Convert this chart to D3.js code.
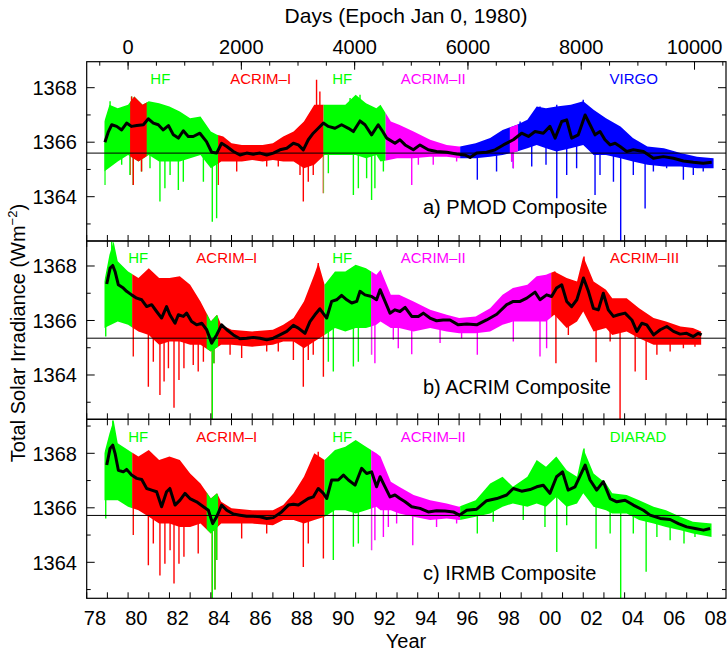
<!DOCTYPE html>
<html>
<head>
<meta charset="utf-8">
<script src="https://cdn.jsdelivr.net/npm/d3@7"></script>
<style>
  body { margin: 0; background: #fff; }
  svg { display: block; }
  text { font-family: "Liberation Sans", Arial, Helvetica, sans-serif; fill: #000; }
</style>
</head>
<body>
<svg id="chart"></svg>
<script>
// ---- data: [year, W/m^2] ----
const smoothA = [[1978.88,1366.0],[1979.05,1366.39],[1979.21,1366.64],[1979.45,1366.58],[1979.69,1366.45],[1979.93,1366.70],[1980.17,1366.58],[1980.42,1366.61],[1980.74,1366.64],[1980.98,1366.86],[1981.22,1366.70],[1981.46,1366.64],[1981.70,1366.45],[1981.95,1366.61],[1982.19,1366.27],[1982.43,1366.15],[1982.67,1366.42],[1982.91,1366.21],[1983.15,1366.21],[1983.47,1366.33],[1983.79,1366.02],[1984.04,1365.63],[1984.28,1365.60],[1984.52,1365.96],[1984.77,1365.84],[1985.09,1365.66],[1985.41,1365.53],[1985.73,1365.60],[1986.05,1365.56],[1986.38,1365.60],[1986.70,1365.53],[1987.02,1365.60],[1987.34,1365.72],[1987.67,1365.78],[1987.99,1365.96],[1988.23,1365.90],[1988.47,1365.72],[1988.71,1366.09],[1988.95,1366.33],[1989.19,1366.51],[1989.44,1366.70],[1989.68,1366.58],[1990.00,1366.51],[1990.32,1366.64],[1990.65,1366.51],[1990.89,1366.39],[1991.21,1366.78],[1991.45,1366.64],[1991.77,1366.27],[1992.09,1366.64],[1992.30,1366.40],[1992.50,1366.15],[1992.90,1365.96],[1993.14,1366.09],[1993.39,1365.90],[1993.79,1365.72],[1994.11,1365.90],[1994.51,1365.72],[1994.91,1365.66],[1995.40,1365.63],[1995.88,1365.57],[1996.29,1365.53],[1996.53,1365.44],[1996.85,1365.60],[1997.33,1365.63],[1997.74,1365.72],[1998.14,1365.90],[1998.62,1366.09],[1999.02,1366.33],[1999.35,1366.21],[1999.67,1366.39],[2000.07,1366.33],[2000.39,1366.58],[2000.64,1366.15],[2000.96,1366.76],[2001.20,1366.82],[2001.44,1366.15],[2001.76,1366.27],[2002.09,1367.00],[2002.33,1366.64],[2002.57,1366.27],[2002.81,1366.39],[2003.05,1366.09],[2003.30,1365.90],[2003.54,1365.96],[2003.78,1365.84],[2004.10,1365.66],[2004.42,1365.72],[2004.91,1365.66],[2005.39,1365.41],[2005.87,1365.47],[2006.36,1365.41],[2006.84,1365.31],[2007.32,1365.26],[2007.80,1365.23],[2008.21,1365.26]];
const upperA = [[1978.85,1366.76],[1979.1,1367.37],[1979.5,1367.25],[1980.0,1367.37],[1980.3,1367.68],[1980.7,1367.37],[1981.0,1367.5],[1981.5,1367.43],[1982.0,1367.31],[1982.5,1367.13],[1983.0,1366.88],[1983.5,1366.94],[1984.0,1366.39],[1984.3,1366.27],[1984.6,1366.21],[1985.0,1365.96],[1985.5,1365.9],[1986.0,1365.9],[1986.5,1365.9],[1987.0,1365.96],[1987.5,1366.21],[1988.0,1366.39],[1988.5,1366.76],[1989.0,1367.37],[1989.5,1367.37],[1990.0,1367.37],[1990.5,1367.37],[1991.0,1367.74],[1991.5,1367.43],[1992.0,1367.25],[1992.2,1367.37],[1992.7,1366.76],[1993.1,1366.64],[1993.8,1366.39],[1994.6,1366.09],[1995.4,1365.9],[1996.0,1365.84],[1996.8,1365.96],[1997.5,1366.15],[1998.1,1366.45],[1998.8,1366.64],[1999.3,1366.82],[1999.75,1367.31],[2000.2,1367.25],[2000.7,1367.31],[2001.4,1367.37],[2002.0,1367.5],[2002.5,1367.19],[2003.1,1366.88],[2003.8,1366.58],[2004.4,1366.15],[2005.1,1365.84],[2005.9,1365.78],[2006.7,1365.6],[2007.5,1365.47],[2008.3,1365.41]];
const lowerA = [[1978.85,1364.92],[1979.5,1365.29],[1980.0,1365.53],[1980.5,1365.29],[1981.0,1365.53],[1981.5,1365.29],[1982.0,1365.29],[1982.5,1365.29],[1983.0,1365.41],[1983.5,1365.53],[1984.0,1365.04],[1984.5,1365.29],[1985.0,1365.29],[1985.5,1365.29],[1986.0,1365.35],[1986.5,1365.29],[1987.0,1365.35],[1987.5,1365.29],[1988.0,1365.29],[1988.5,1365.04],[1989.0,1365.17],[1989.5,1365.53],[1990.0,1365.53],[1990.5,1365.53],[1991.0,1365.53],[1991.5,1365.41],[1992.0,1365.53],[1992.2,1365.29],[1993.0,1365.41],[1993.8,1365.41],[1994.6,1365.47],[1995.4,1365.47],[1996.0,1365.41],[1996.8,1365.41],[1997.5,1365.47],[1998.1,1365.53],[1998.8,1365.66],[1999.3,1365.78],[1999.75,1365.9],[2000.2,1365.78],[2000.7,1365.66],[2001.4,1365.78],[2002.0,1365.9],[2002.5,1365.53],[2003.1,1365.53],[2003.8,1365.41],[2004.4,1365.29],[2005.1,1365.17],[2005.9,1365.11],[2006.7,1365.11],[2007.5,1365.04],[2008.3,1365.04]];
const spikesA = [[1978.88,1364.43],[1979.13,1367.5],[1979.69,1365.17],[1980.09,1364.80],[1980.17,1367.68],[1980.25,1364.43],[1980.65,1364.92],[1981.06,1365.04],[1981.54,1363.82],[1981.78,1364.31],[1982.03,1364.80],[1982.43,1364.25],[1982.67,1364.55],[1983.64,1364.55],[1984.07,1363.08],[1984.28,1363.21],[1984.36,1364.43],[1985.25,1364.92],[1986.70,1365.11],[1987.26,1365.11],[1988.31,1364.80],[1988.47,1363.82],[1988.71,1364.55],[1988.95,1364.80],[1989.11,1368.29],[1989.27,1367.86],[1989.44,1364.13],[1989.68,1364.86],[1990.73,1367.62],[1990.89,1364.06],[1991.13,1364.31],[1991.21,1367.74],[1991.53,1364.68],[1991.77,1363.88],[1991.93,1364.31],[1992.34,1364.92],[1993.71,1364.43],[1994.03,1365.17],[1994.75,1365.17],[1995.88,1365.29],[1996.88,1364.62],[1997.81,1364.92],[1998.54,1365.29],[1998.62,1365.04],[1998.95,1366.76],[1999.51,1365.11],[1999.91,1367.31],[2000.2,1365.17],[2000.72,1363.94],[2000.72,1367.37],[2001.2,1364.80],[2001.68,1365.04],[2002.0,1367.56],[2002.57,1364.06],[2002.81,1364.80],[2003.46,1364.55],[2003.81,1362.3],[2004.42,1364.80],[2004.99,1363.57],[2005.39,1364.92],[2006.03,1365.04],[2006.84,1364.62],[2007.32,1364.80],[2007.8,1364.92]];

const smoothB = [[1978.97,1367.34],[1979.13,1367.92],[1979.26,1368.02],[1979.37,1367.80],[1979.53,1367.31],[1979.77,1367.19],[1979.93,1367.07],[1980.17,1366.94],[1980.42,1366.82],[1980.66,1366.76],[1980.90,1366.51],[1981.14,1366.58],[1981.38,1366.33],[1981.62,1366.09],[1981.86,1366.51],[1982.02,1366.21],[1982.27,1365.90],[1982.43,1366.21],[1982.67,1366.15],[1982.83,1366.27],[1983.07,1365.96],[1983.31,1365.84],[1983.56,1365.90],[1983.80,1365.66],[1984.04,1365.17],[1984.28,1365.47],[1984.52,1365.84],[1984.77,1365.66],[1985.09,1365.47],[1985.41,1365.33],[1985.73,1365.35],[1986.05,1365.38],[1986.38,1365.35],[1986.70,1365.29],[1987.02,1365.35],[1987.34,1365.47],[1987.67,1365.60],[1987.99,1365.82],[1988.23,1365.72],[1988.55,1365.53],[1988.79,1365.96],[1989.03,1366.21],[1989.27,1366.43],[1989.60,1366.09],[1989.84,1366.70],[1990.08,1366.76],[1990.32,1366.92],[1990.57,1366.76],[1990.81,1366.64],[1991.05,1366.70],[1991.21,1367.07],[1991.45,1366.94],[1991.77,1366.88],[1992.01,1366.76],[1992.18,1367.13],[1992.42,1366.70],[1992.66,1366.27],[1992.90,1366.39],[1993.14,1366.33],[1993.39,1366.48],[1993.71,1366.15],[1994.03,1366.15],[1994.27,1366.27],[1994.59,1366.09],[1994.91,1365.99],[1995.23,1366.02],[1995.56,1366.02],[1995.96,1365.84],[1996.37,1365.87],[1996.85,1365.84],[1997.33,1366.02],[1997.82,1366.23],[1998.30,1366.58],[1998.62,1366.70],[1998.95,1366.70],[1999.27,1366.82],[1999.67,1367.04],[1999.91,1366.76],[2000.23,1366.94],[2000.47,1366.88],[2000.71,1367.19],[2000.96,1367.31],[2001.20,1366.70],[2001.44,1366.51],[2001.69,1366.76],[2002.01,1367.56],[2002.25,1367.07],[2002.49,1366.45],[2002.73,1366.39],[2002.97,1367.00],[2003.21,1366.39],[2003.46,1366.15],[2003.70,1366.21],[2004.02,1366.27],[2004.35,1366.02],[2004.59,1365.60],[2004.83,1365.90],[2005.07,1365.84],[2005.40,1365.47],[2005.72,1365.66],[2006.04,1365.78],[2006.36,1365.60],[2006.68,1365.50],[2007.00,1365.53],[2007.32,1365.41],[2007.56,1365.53],[2007.72,1365.47]];
const upperB = [[1978.85,1367.43],[1979.1,1368.41],[1979.3,1368.9],[1979.5,1368.17],[1980.0,1367.8],[1980.5,1367.56],[1981.0,1367.92],[1981.5,1367.56],[1982.0,1367.56],[1982.5,1367.62],[1983.0,1367.31],[1983.5,1366.7],[1984.0,1365.96],[1984.3,1366.21],[1984.5,1365.84],[1985.0,1365.66],[1986.0,1365.6],[1987.0,1365.66],[1987.5,1365.84],[1988.0,1366.09],[1988.5,1366.7],[1989.0,1367.68],[1989.2,1368.11],[1989.5,1367.31],[1990.0,1367.8],[1990.5,1367.8],[1991.0,1368.05],[1991.5,1367.92],[1992.0,1367.68],[1992.2,1367.86],[1992.7,1366.94],[1993.1,1366.94],[1993.8,1366.7],[1994.6,1366.39],[1995.4,1366.21],[1996.0,1366.09],[1996.8,1366.15],[1997.5,1366.45],[1998.1,1366.94],[1998.6,1367.19],[1999.3,1367.31],[1999.75,1367.62],[2000.2,1367.68],[2000.6,1367.8],[2001.2,1367.56],[2001.7,1367.43],[2002.0,1368.35],[2002.5,1367.43],[2003.1,1367.13],[2003.4,1366.82],[2004.1,1366.82],[2004.7,1366.45],[2005.4,1366.09],[2006.0,1365.96],[2006.7,1365.78],[2007.3,1365.72],[2007.7,1365.6]];
const lowerB = [[1978.85,1365.72],[1979.5,1365.96],[1980.0,1365.84],[1980.5,1365.6],[1981.0,1365.47],[1981.5,1365.11],[1982.0,1365.23],[1982.5,1365.23],[1983.0,1365.11],[1983.5,1365.11],[1984.0,1364.86],[1984.5,1365.11],[1985.0,1365.11],[1986.0,1365.04],[1987.0,1365.11],[1987.5,1365.23],[1988.0,1365.23],[1988.5,1364.98],[1989.0,1365.23],[1989.5,1365.47],[1990.0,1365.72],[1990.5,1365.6],[1991.0,1365.72],[1991.5,1365.72],[1992.0,1365.84],[1992.2,1365.96],[1992.7,1365.72],[1993.1,1365.72],[1993.8,1365.6],[1994.6,1365.72],[1995.4,1365.6],[1996.0,1365.53],[1996.8,1365.53],[1997.5,1365.6],[1998.1,1365.84],[1998.6,1365.96],[1999.3,1365.96],[1999.75,1365.96],[2000.2,1365.96],[2000.6,1366.21],[2001.2,1365.72],[2001.7,1365.96],[2002.0,1366.33],[2002.5,1365.6],[2003.1,1365.72],[2003.4,1365.47],[2004.1,1365.6],[2004.7,1365.35],[2005.4,1365.11],[2006.0,1365.11],[2006.7,1365.11],[2007.3,1365.11],[2007.7,1365.11]];
const spikesB = [[1978.92,1365.41],[1979.21,1368.9],[1980.25,1364.68],[1980.98,1363.57],[1981.22,1364.49],[1981.54,1363.27],[1981.74,1363.76],[1981.95,1364.25],[1982.22,1362.80],[1982.46,1363.82],[1982.70,1364.25],[1983.15,1364.37],[1983.39,1364.13],[1983.64,1364.49],[1984.07,1362.3],[1984.15,1364.43],[1984.93,1364.74],[1985.49,1364.62],[1986.70,1364.86],[1987.26,1364.86],[1987.99,1364.55],[1988.47,1363.57],[1988.71,1364.55],[1988.95,1364.74],[1989.19,1368.11],[1989.44,1363.94],[1989.68,1364.49],[1989.92,1364.13],[1990.89,1364.31],[1991.13,1364.49],[1991.77,1364.74],[1991.93,1364.43],[1992.82,1365.29],[1993.06,1364.98],[1993.71,1364.76],[1995.08,1365.17],[1996.12,1365.35],[1996.88,1364.74],[1998.62,1365.23],[1999.91,1364.68],[2000.23,1364.98],[2000.63,1367.8],[2000.68,1364.43],[2001.28,1365.47],[2002.04,1368.35],[2002.62,1364.47],[2003.30,1365.23],[2003.78,1362.3],[2004.51,1364.13],[2005.04,1363.82],[2005.56,1364.74],[2006.2,1364.86],[2006.84,1364.98],[2007.40,1365.04]];

const smoothC = [[1978.97,1367.57],[1979.13,1368.18],[1979.26,1368.30],[1979.37,1368.00],[1979.53,1367.38],[1979.77,1367.32],[1979.93,1367.41],[1980.17,1367.20],[1980.42,1367.08],[1980.66,1367.04],[1980.90,1366.71],[1981.14,1366.65],[1981.38,1366.59],[1981.62,1366.04],[1981.86,1366.59],[1982.02,1366.71],[1982.27,1366.10],[1982.51,1366.28],[1982.75,1366.53],[1982.99,1366.34],[1983.31,1366.22],[1983.64,1366.04],[1983.88,1365.91],[1984.09,1365.42],[1984.28,1365.67],[1984.52,1366.10],[1984.77,1365.91],[1985.09,1365.77],[1985.41,1365.73],[1985.73,1365.69],[1986.05,1365.69],[1986.38,1365.67],[1986.70,1365.61],[1987.02,1365.64],[1987.42,1365.85],[1987.75,1366.10],[1987.99,1366.13],[1988.23,1366.10],[1988.47,1366.22],[1988.71,1366.34],[1988.95,1366.40],[1989.19,1366.71],[1989.44,1366.53],[1989.60,1366.34],[1989.84,1367.02],[1990.16,1367.02],[1990.41,1367.20],[1990.65,1367.02],[1990.97,1366.83],[1991.29,1367.45],[1991.53,1367.26],[1991.77,1367.32],[1992.01,1366.77],[1992.18,1367.14],[1992.42,1366.77],[1992.66,1366.40],[1992.90,1366.47],[1993.14,1366.34],[1993.39,1366.22],[1993.71,1366.04],[1994.11,1365.98],[1994.51,1365.85],[1994.91,1365.89],[1995.32,1365.88],[1995.72,1365.85],[1996.01,1365.73],[1996.37,1365.91],[1996.85,1365.95],[1997.33,1366.26],[1997.82,1366.34],[1998.30,1366.47],[1998.62,1366.71],[1999.02,1366.61],[1999.43,1366.67],[1999.75,1366.77],[2000.07,1366.83],[2000.39,1366.53],[2000.71,1367.14],[2001.00,1367.32],[2001.27,1366.65],[2001.60,1366.77],[2002.09,1367.57],[2002.33,1367.02],[2002.65,1366.65],[2002.97,1366.96],[2003.30,1366.34],[2003.62,1366.22],[2004.02,1366.28],[2004.42,1366.10],[2004.91,1365.91],[2005.23,1365.73],[2005.72,1365.61],[2006.20,1365.57],[2006.60,1365.42],[2007.00,1365.30],[2007.41,1365.24],[2007.81,1365.18],[2008.13,1365.24]];
const upperC = [[1978.85,1368.0],[1979.1,1368.73],[1979.3,1369.22],[1979.5,1368.37],[1980.0,1368.12],[1980.5,1367.88],[1981.0,1368.12],[1981.5,1367.75],[1982.0,1367.88],[1982.5,1367.75],[1983.0,1367.26],[1983.5,1366.89],[1984.0,1366.34],[1984.3,1366.53],[1984.5,1366.22],[1985.0,1365.98],[1986.0,1365.91],[1987.0,1365.91],[1987.5,1366.1],[1988.0,1366.53],[1988.5,1367.14],[1989.0,1368.0],[1989.5,1367.75],[1990.0,1368.12],[1990.5,1368.24],[1991.0,1368.49],[1991.5,1368.24],[1992.0,1368.0],[1992.2,1367.88],[1992.7,1366.96],[1993.1,1366.77],[1993.8,1366.47],[1994.6,1366.28],[1995.4,1366.16],[1996.0,1366.04],[1996.8,1366.28],[1997.5,1366.89],[1998.1,1367.14],[1998.6,1366.77],[1999.3,1367.14],[1999.75,1367.75],[2000.2,1367.51],[2000.7,1367.88],[2001.2,1367.38],[2001.7,1367.14],[2002.0,1368.18],[2002.5,1367.26],[2003.1,1366.89],[2003.4,1366.53],[2004.1,1366.47],[2004.7,1366.28],[2005.4,1366.04],[2006.0,1365.91],[2006.7,1365.67],[2007.3,1365.49],[2008.2,1365.42]];
const lowerC = [[1978.85,1366.28],[1979.5,1366.28],[1980.0,1366.04],[1980.5,1365.91],[1981.0,1365.67],[1981.5,1365.42],[1982.0,1365.42],[1982.5,1365.3],[1983.0,1365.3],[1983.5,1365.42],[1984.0,1365.06],[1984.5,1365.42],[1985.0,1365.42],[1986.0,1365.42],[1987.0,1365.36],[1987.5,1365.55],[1988.0,1365.55],[1988.5,1365.42],[1989.0,1365.55],[1989.5,1365.67],[1990.0,1365.91],[1990.5,1365.91],[1991.0,1365.79],[1991.5,1365.91],[1992.0,1366.04],[1992.2,1365.91],[1992.7,1365.91],[1993.1,1365.79],[1993.8,1365.67],[1994.6,1365.55],[1995.4,1365.61],[1996.0,1365.55],[1996.8,1365.67],[1997.5,1365.79],[1998.1,1366.04],[1998.6,1366.16],[1999.3,1366.04],[1999.75,1366.16],[2000.2,1366.04],[2000.7,1366.4],[2001.2,1366.04],[2001.7,1366.16],[2002.0,1366.53],[2002.5,1366.04],[2003.1,1365.91],[2003.4,1365.79],[2004.1,1365.79],[2004.7,1365.55],[2005.4,1365.42],[2006.0,1365.3],[2006.7,1365.18],[2007.3,1365.06],[2008.2,1364.93]];
const spikesC = [[1978.92,1365.61],[1979.26,1369.2],[1980.25,1365.0],[1980.98,1363.89],[1981.22,1364.69],[1981.54,1363.52],[1981.78,1363.95],[1982.03,1364.44],[1982.22,1363.22],[1982.46,1363.95],[1982.70,1364.2],[1983.39,1364.32],[1984.07,1362.6],[1984.2,1363.0],[1984.28,1364.08],[1985.49,1364.87],[1986.70,1365.06],[1988.47,1363.83],[1988.71,1364.69],[1989.19,1368.06],[1989.44,1364.14],[1989.92,1364.08],[1990.89,1364.57],[1991.13,1364.69],[1991.77,1364.44],[1991.93,1364.81],[1992.34,1364.93],[1992.58,1365.3],[1992.98,1365.42],[1993.76,1364.63],[1994.91,1365.3],[1995.88,1365.42],[1996.88,1365.06],[1997.65,1365.49],[1999.1,1365.55],[2000.15,1365.3],[2000.72,1364.38],[2001.2,1365.36],[2002.04,1368.18],[2002.62,1364.5],[2003.30,1365.06],[2003.81,1362.6],[2004.42,1365.06],[2005.04,1363.65],[2005.56,1364.93],[2006.2,1364.81],[2006.87,1364.69],[2007.40,1364.93]];

// instrument spans: [instrument, from year, to year] (later entries drawn on top)
const segA = [['HF',1978.85,1984.35],['ACRIM–I',1980.1,1980.9],['ACRIM–I',1984.35,1989.45],['HF',1989.45,1992.45],['ACRIM–II',1992.45,1996.05],['VIRGO',1996.05,2008.35],['ACRIM–II',1998.45,1998.85]];
const segB = [['HF',1978.85,1980.2],['ACRIM–I',1980.2,1989.5],['HF',1983.8,1984.35],['HF',1989.5,1991.75],['ACRIM–II',1991.75,2000.45],['ACRIM–III',2000.45,2007.8]];
const segC = [['HF',1978.85,1980.2],['ACRIM–I',1980.2,1989.5],['HF',1983.8,1984.35],['HF',1989.5,1991.75],['ACRIM–II',1991.75,1996.05],['DIARAD',1996.05,2008.3]];

// instrument labels: [text, centre year]
const labelsA = [['HF',1981.56],['ACRIM–I',1986.41],['HF',1990.35],['ACRIM–II',1994.75],['VIRGO',2004.44]];
const labelsB = [['HF',1980.49],['ACRIM–I',1984.77],['HF',1990.35],['ACRIM–II',1994.75],['ACRIM–III',2004.96]];
const labelsC = [['HF',1980.49],['ACRIM–I',1984.77],['HF',1990.35],['ACRIM–II',1994.75],['DIARAD',2004.65]];

const refLevels = [1365.6, 1365.35, 1365.72];
const yearTicks = d3.range(1978, 2009);
const yearLabels = d3.range(1978, 2009, 2);
const dayMajor = d3.range(0, 10001, 2000);
const dayMinor = d3.range(-500, 10501, 500);
const yMajor = [1364, 1366, 1368];
const yMinor = [1363, 1365, 1367, 1369];

const instrumentColor = {
  'HF': '#00ff00', 'ACRIM–I': '#ff0000', 'ACRIM–II': '#ff00ff',
  'ACRIM–III': '#ff0000', 'VIRGO': '#0000ff', 'DIARAD': '#00ff00'
};

// ---- layout ----
const W = 727, H = 651;
const X0 = 86.7, X1 = 726;
const x = d3.scaleLinear().domain([1978, 2008.9]).range([X0, X1]);
const dayOf = yr => (yr - 1980) * 365.25;
const xd = d3.scaleLinear().domain([dayOf(1978), dayOf(2008.9)]).range([X0, X1]);

const panels = [
  { key: 'a', top: 61.7, bottom: 241, lo: 1362.374, hi: 1368.954, smooth: smoothA, upper: upperA, lower: lowerA, spikes: spikesA, segs: segA, labels: labelsA, labelY: 84.3, title: 'a) PMOD Composite', titleY: 214 },
  { key: 'b', top: 241, bottom: 419.3, lo: 1362.374, hi: 1368.917, smooth: smoothB, upper: upperB, lower: lowerB, spikes: spikesB, segs: segB, labels: labelsB, labelY: 263.3, title: 'b) ACRIM Composite', titleY: 393.5 },
  { key: 'c', top: 419.3, bottom: 598.3, lo: 1362.679, hi: 1369.248, smooth: smoothC, upper: upperC, lower: lowerC, spikes: spikesC, segs: segC, labels: labelsC, labelY: 442.3, title: 'c) IRMB Composite', titleY: 580 }
];

function valueAt(series, yr) {
  const i = d3.bisector(d => d[0]).left(series, yr);
  if (i <= 0) return series[0][1];
  if (i >= series.length) return series[series.length - 1][1];
  const [xa, ya] = series[i - 1], [xb, yb] = series[i];
  return ya + (yb - ya) * (yr - xa) / (xb - xa);
}

const svg = d3.select('#chart')
  .attr('width', W)
  .attr('height', H)
  .attr('viewBox', `0 0 ${W} ${H}`);
const defs = svg.append('defs');

function vTicks(g, vals, scale, y0, len) {
  g.selectAll(null).data(vals).join('line')
    .attr('x1', d => scale(d)).attr('x2', d => scale(d))
    .attr('y1', y0).attr('y2', y0 + len)
    .attr('stroke', '#000').attr('stroke-width', 1);
}
function hTicks(g, vals, scale, x0, len) {
  g.selectAll(null).data(vals).join('line')
    .attr('x1', x0).attr('x2', x0 + len)
    .attr('y1', d => scale(d)).attr('y2', d => scale(d))
    .attr('stroke', '#000').attr('stroke-width', 1);
}

panels.forEach((p, pi) => {
  const y = d3.scaleLinear().domain([p.lo, p.hi]).range([p.bottom, p.top]);
  const clipId = `clip-${p.key}`;
  defs.append('clipPath').attr('id', clipId).append('rect')
    .attr('x', X0).attr('y', p.top).attr('width', X1 - X0).attr('height', p.bottom - p.top);

  const g = svg.append('g').attr('clip-path', `url(#${clipId})`);
  const xy = d3.line().x(d => x(d[0])).y(d => y(d[1]));
  const band = xy(p.upper.concat(p.lower.slice().reverse())) + 'Z';

  // coloured daily data, one clip per instrument span
  p.segs.forEach((s, si) => {
    const sid = `seg-${p.key}-${si}`;
    defs.append('clipPath').attr('id', sid).append('rect')
      .attr('x', x(s[1])).attr('y', p.top - 5)
      .attr('width', x(s[2]) - x(s[1])).attr('height', p.bottom - p.top + 10);
    const col = instrumentColor[s[0]];
    const sg = g.append('g').attr('clip-path', `url(#${sid})`);
    sg.append('path').attr('d', band).attr('fill', col);
    sg.selectAll('line').data(p.spikes).join('line')
      .attr('x1', d => x(d[0])).attr('x2', d => x(d[0]))
      .attr('y1', d => y(valueAt(p.smooth, d[0])))
      .attr('y2', d => y(d[1]))
      .attr('stroke', col).attr('stroke-width', 1.4);
  });

  // reference level
  g.append('line')
    .attr('x1', X0).attr('x2', X1)
    .attr('y1', y(refLevels[pi])).attr('y2', y(refLevels[pi]))
    .attr('stroke', '#000').attr('stroke-width', 1);

  // smoothed composite
  g.append('path').datum(p.smooth)
    .attr('d', xy)
    .attr('fill', 'none')
    .attr('stroke', '#000')
    .attr('stroke-width', 3)
    .attr('stroke-linejoin', 'round');

  // frame
  const ax = svg.append('g');
  ax.append('rect')
    .attr('x', X0).attr('y', p.top).attr('width', X1 - X0).attr('height', p.bottom - p.top)
    .attr('fill', 'none').attr('stroke', '#000').attr('stroke-width', 1.2);

  // year ticks bottom (and top for b, c)
  vTicks(ax, yearTicks, x, p.bottom, -6);
  if (pi > 0) vTicks(ax, yearTicks, x, p.top, 6);

  // y ticks, both sides
  const ymaj = yMajor.filter(v => v >= p.lo && v <= p.hi);
  const ymin = yMinor.filter(v => v >= p.lo && v <= p.hi);
  hTicks(ax, ymaj, y, X0, 8);
  hTicks(ax, ymin, y, X0, 4);
  hTicks(ax, ymaj, y, X1, -8);
  hTicks(ax, ymin, y, X1, -4);

  ax.selectAll(null).data(ymaj).join('text')
    .attr('x', 77).attr('y', d => y(d)).attr('dy', '0.36em')
    .attr('text-anchor', 'end').attr('font-size', 20)
    .text(d => d);

  // instrument labels
  ax.selectAll(null).data(p.labels).join('text')
    .attr('x', d => x(d[1])).attr('y', p.labelY)
    .attr('text-anchor', 'middle').attr('font-size', 15)
    .style('fill', d => instrumentColor[d[0]])
    .text(d => d[0]);

  ax.append('text')
    .attr('x', 423).attr('y', p.titleY)
    .attr('font-size', 20)
    .text(p.title);
});

// top day axis
const dayAxis = svg.append('g');
vTicks(dayAxis, dayMajor, xd, 61.7, 8);
vTicks(dayAxis, dayMinor.filter(d => xd(d) >= X0 && xd(d) <= X1), xd, 61.7, 4);
dayAxis.selectAll(null).data(dayMajor).join('text')
  .attr('x', d => xd(d)).attr('y', 53.5)
  .attr('text-anchor', 'middle').attr('font-size', 20)
  .text(d => d);
dayAxis.append('text')
  .attr('x', 406).attr('y', 23)
  .attr('text-anchor', 'middle').attr('font-size', 21)
  .text('Days (Epoch Jan 0, 1980)');

// bottom year labels (centred within the year)
const yearAxis = svg.append('g');
yearAxis.selectAll(null).data(yearLabels).join('text')
  .attr('x', d => x(d + 0.4)).attr('y', 624.5)
  .attr('text-anchor', 'middle').attr('font-size', 20)
  .text(d => String(d % 100).padStart(2, '0'));
yearAxis.append('text')
  .attr('x', 406).attr('y', 648)
  .attr('text-anchor', 'middle').attr('font-size', 20)
  .text('Year');

// y title
const yTitle = svg.append('text')
  .attr('transform', 'translate(25,333) rotate(-90)')
  .attr('text-anchor', 'middle').attr('font-size', 20);
yTitle.append('tspan').text('Total Solar Irradiance (Wm');
yTitle.append('tspan').attr('dy', -8).attr('font-size', 13).text('−2');
yTitle.append('tspan').attr('dy', 8).text(')');
</script>
</body>
</html>
